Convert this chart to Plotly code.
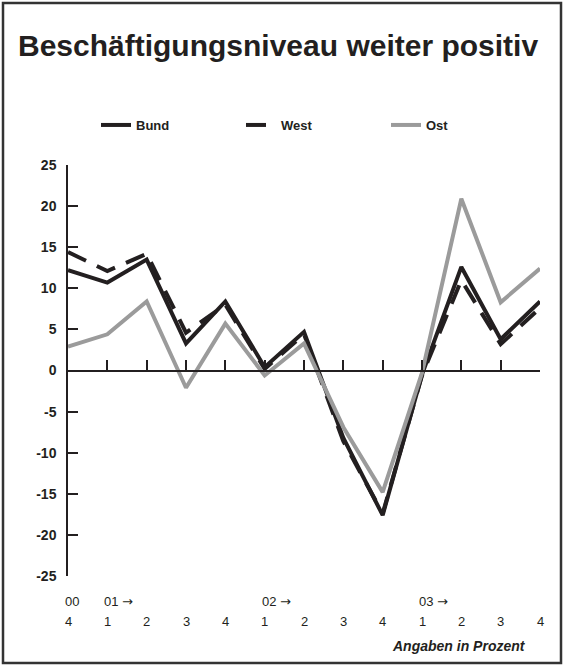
import plotly.graph_objects as go

quarters = ["4", "1", "2", "3", "4", "1", "2", "3", "4", "1", "2", "3", "4"]
year_labels = ["00", "01 <span style=\"font-family:DejaVu Sans\">\u2192</span>",
               "02 <span style=\"font-family:DejaVu Sans\">\u2192</span>",
               "03 <span style=\"font-family:DejaVu Sans\">\u2192</span>"]
year_positions = [0, 1, 5, 9]

bund = [12.2, 10.7, 13.5, 3.3, 8.4, 0.4, 4.7, -8.2, -17.6, -0.5, 12.6, 3.8, 8.4]
west = [14.4, 12.1, 14.2, 4.6, 8.0, 0.2, 4.4, -8.6, -17.4, -0.6, 11.0, 3.2, 7.6]
ost = [2.9, 4.4, 8.4, -2.1, 5.7, -0.6, 3.3, -6.9, -14.8, -0.3, 20.9, 8.3, 12.4]

y_ticks = [25, 20, 15, 10, 5, 0, -5, -10, -15, -20, -25]

FONT = "Liberation Sans, Arial, sans-serif"
DARK = "#231f20"
GREY = "#9b9b9b"

x = list(range(len(quarters)))

fig = go.Figure()
fig.add_trace(go.Scatter(x=x, y=bund, mode="lines", name="Bund",
                         line=dict(color=DARK, width=4)))
fig.add_trace(go.Scatter(x=x, y=west, mode="lines", name="West",
                         line=dict(color=DARK, width=4, dash="20px,12px")))
fig.add_trace(go.Scatter(x=x, y=ost, mode="lines", name="Ost",
                         line=dict(color=GREY, width=4)))

L, R, T, B = 68, 24, 165, 90
W, H = 564, 666
pw = W - L - R
ph = H - T - B

def px_to_paper_x(px):
    return (px - L) / pw

def px_to_paper_y(py):
    return (H - B - py) / ph

annotations = []
for xi, q in zip(x, quarters):
    annotations.append(dict(x=xi, y=px_to_paper_y(621), xref="x", yref="paper",
                            text=q, showarrow=False, xanchor="center", yanchor="middle",
                            font=dict(family=FONT, size=13, color=DARK)))
for xi, yl in zip(year_positions, year_labels):
    annotations.append(dict(x=xi, y=px_to_paper_y(601), xref="x", yref="paper",
                            text=yl, showarrow=False, xanchor="left", yanchor="middle",
                            xshift=-5,
                            font=dict(family=FONT, size=13, color=DARK)))
annotations.append(dict(x=px_to_paper_x(528), y=px_to_paper_y(646), xref="paper", yref="paper",
                        text="<b><i>Angaben in Prozent</i></b>", showarrow=False,
                        xanchor="right", yanchor="middle",
                        font=dict(family=FONT, size=14, color=DARK)))

fig.update_layout(
    width=W, height=H,
    margin=dict(l=L, r=R, t=T, b=B),
    paper_bgcolor="white", plot_bgcolor="white",
    title=dict(text="<b>Besch\u00e4ftigungsniveau weiter positiv</b>",
               x=18 / W, xanchor="left", y=1 - 45 / H, yanchor="middle",
               font=dict(family=FONT, size=30, color=DARK)),
    showlegend=True,
    legend=dict(orientation="h", x=px_to_paper_x(96), y=px_to_paper_y(125),
                xanchor="left", yanchor="middle",
                entrywidth=100, entrywidthmode="pixels",
                font=dict(family=FONT, size=13, color=DARK, weight="bold"),
                bgcolor="rgba(0,0,0,0)"),
    xaxis=dict(range=[0, 12], tickvals=x, showticklabels=False,
               showline=True, linecolor=DARK, linewidth=1.5,
               ticks="inside", ticklen=10, tickwidth=1.5, tickcolor=DARK,
               showgrid=False, zeroline=False,
               anchor="free", position=0.5),
    yaxis=dict(range=[-25, 25], tickvals=y_ticks, ticktext=[str(v) for v in y_ticks],
               showline=True, linecolor=DARK, linewidth=1.5,
               ticks="inside", ticklen=10, tickwidth=1.5, tickcolor=DARK,
               showgrid=False, zeroline=False, ticklabelstandoff=7,
               tickfont=dict(family=FONT, size=14, color=DARK, weight="bold")),
    annotations=annotations,
    shapes=[dict(type="rect", xref="paper", yref="paper",
                 x0=px_to_paper_x(3), x1=px_to_paper_x(561),
                 y0=px_to_paper_y(663), y1=px_to_paper_y(3),
                 line=dict(color="#333333", width=2.5), layer="below")],
)

fig.write_html("out.html", config={"displayModeBar": False},
               post_script="document.body.style.margin='0';document.body.style.overflow='hidden';")
